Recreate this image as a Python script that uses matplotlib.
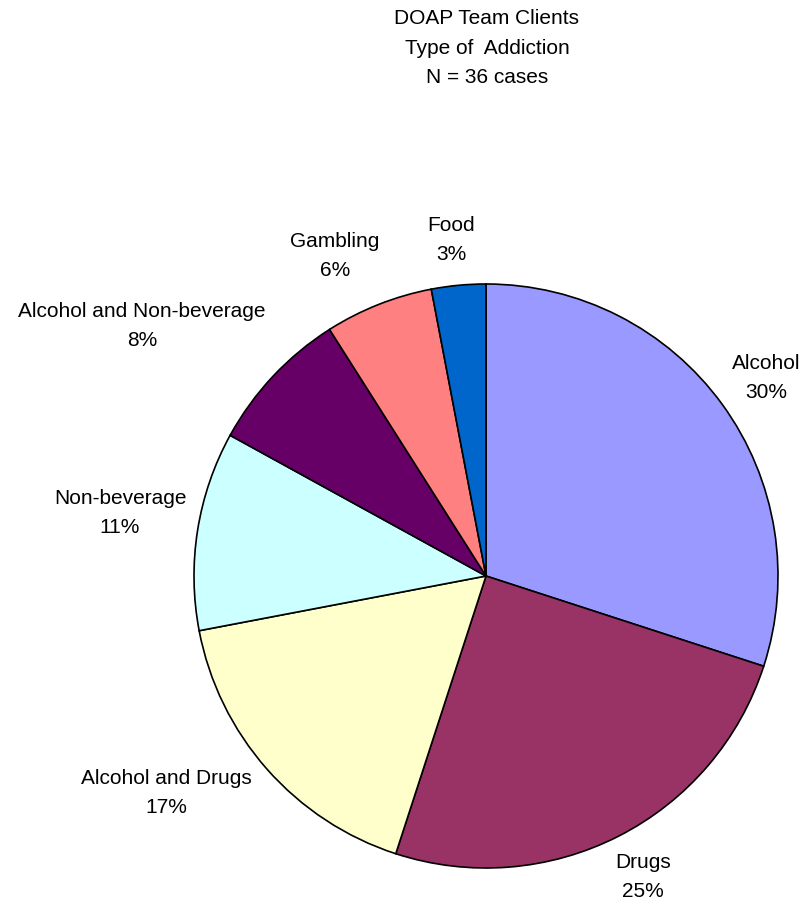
import matplotlib
matplotlib.use("Agg")
import matplotlib.pyplot as plt

plt.rcParams['font.family'] = ['Liberation Sans', 'DejaVu Sans']

categories = ["Alcohol", "Drugs", "Alcohol and Drugs", "Non-beverage",
              "Alcohol and Non-beverage", "Gambling", "Food"]
percents = [30, 25, 17, 11, 8, 6, 3]
colors = ["#9999FF", "#993366", "#FFFFCC", "#CCFFFF", "#660066", "#FF8080", "#0066CC"]

# label anchor positions (pixel coordinates, origin top-left)
label_pos = [(766, 378), (643, 877), (166, 793), (120, 513),
             (142, 326), (335, 256), (451, 240)]

W, H = 807, 907
fig = plt.figure(figsize=(W / 100, H / 100), dpi=100)
ax = fig.add_axes([0, 0, 1, 1])

cx, cy, r = 486, H - 576, 292
ax.pie(percents, colors=colors, startangle=90, counterclock=False,
       center=(cx, cy), radius=r, frame=True,
       wedgeprops=dict(edgecolor='black', linewidth=1.2))
ax.set_xlim(0, W)
ax.set_ylim(0, H)
ax.set_aspect('equal')
ax.axis('off')

for name, pct, (px, py) in zip(categories, percents, label_pos):
    ax.text(px, H - py, f"{name}\n{pct}%", ha='center', va='center',
            fontsize=15, linespacing=1.72)

ax.text(487, H - 48, "DOAP Team Clients\nType of  Addiction\nN = 36 cases",
        ha='center', va='center', fontsize=15, linespacing=1.72)

fig.savefig("out.png", dpi=100)
